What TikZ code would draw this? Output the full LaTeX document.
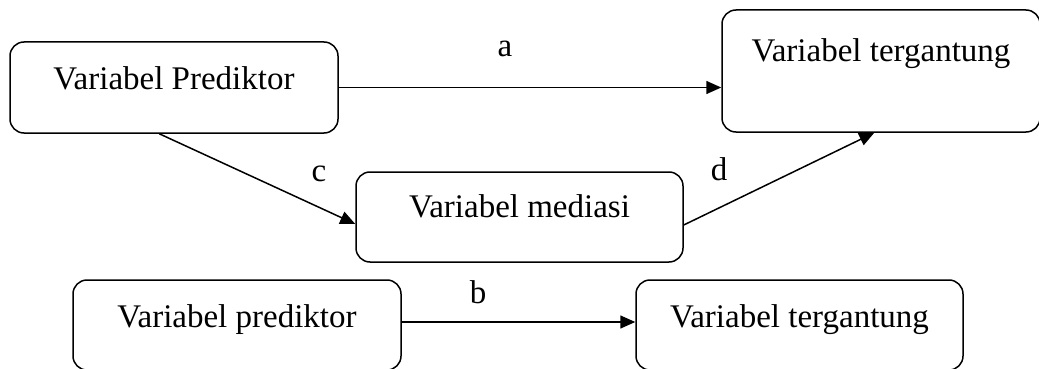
\documentclass[tikz,border=0pt]{standalone}
\usepackage{fontspec}
\setmainfont{Liberation Serif}
\usetikzlibrary{arrows.meta,calc}
\begin{document}
\begin{tikzpicture}[x=1pt,y=-1pt,
  box/.style={draw,line width=1.5pt,rounded corners=14pt,inner xsep=0pt,inner ysep=0pt,
    font=\fontsize{33}{40}\selectfont,anchor=base},
  lbl/.style={font=\fontsize{33}{40}\selectfont,anchor=base,inner sep=0pt},
  arr/.style={line width=1.5pt,-{Triangle[length=15pt,width=13pt]}}]
\useasboundingbox[fill=white] (0,0) rectangle (1039,369);
\node[box,minimum width=328pt,text height=47pt,text depth=44pt] (p1) at (174,89) {Variabel Prediktor};
\node[box,minimum width=318pt,text height=52pt,text depth=70pt] (t1) at (881,62) {Variabel tergantung};
\node[box,minimum width=327pt,text height=45pt,text depth=45pt] (m) at (519.5,217) {Variabel mediasi};
\node[box,minimum width=328pt,text height=47pt,text depth=43pt] (p2) at (237,327) {Variabel prediktor};
\node[box,minimum width=327pt,text height=47pt,text depth=43pt] (t2) at (799.5,327) {Variabel tergantung};
\draw[arr] (p1.east) -- (p1.east -| t1.west);
\draw[arr] ([xshift=150pt]p1.south west) -- ([yshift=-7pt]m.west);
\draw[arr] ([yshift=-8pt]m.east) -- ([xshift=153pt]t1.south west);
\draw[arr] ([yshift=3pt]p2.east) -- ([yshift=3pt]p2.east -| t2.west);
\node[lbl] (la) at (505,57) {a};
\node[lbl] (lc) at (319,181) {c};
\node[lbl] (ld) at (719,180) {d};
\node[lbl] (lb) at (478,303) {b};
\end{tikzpicture}
\end{document}
